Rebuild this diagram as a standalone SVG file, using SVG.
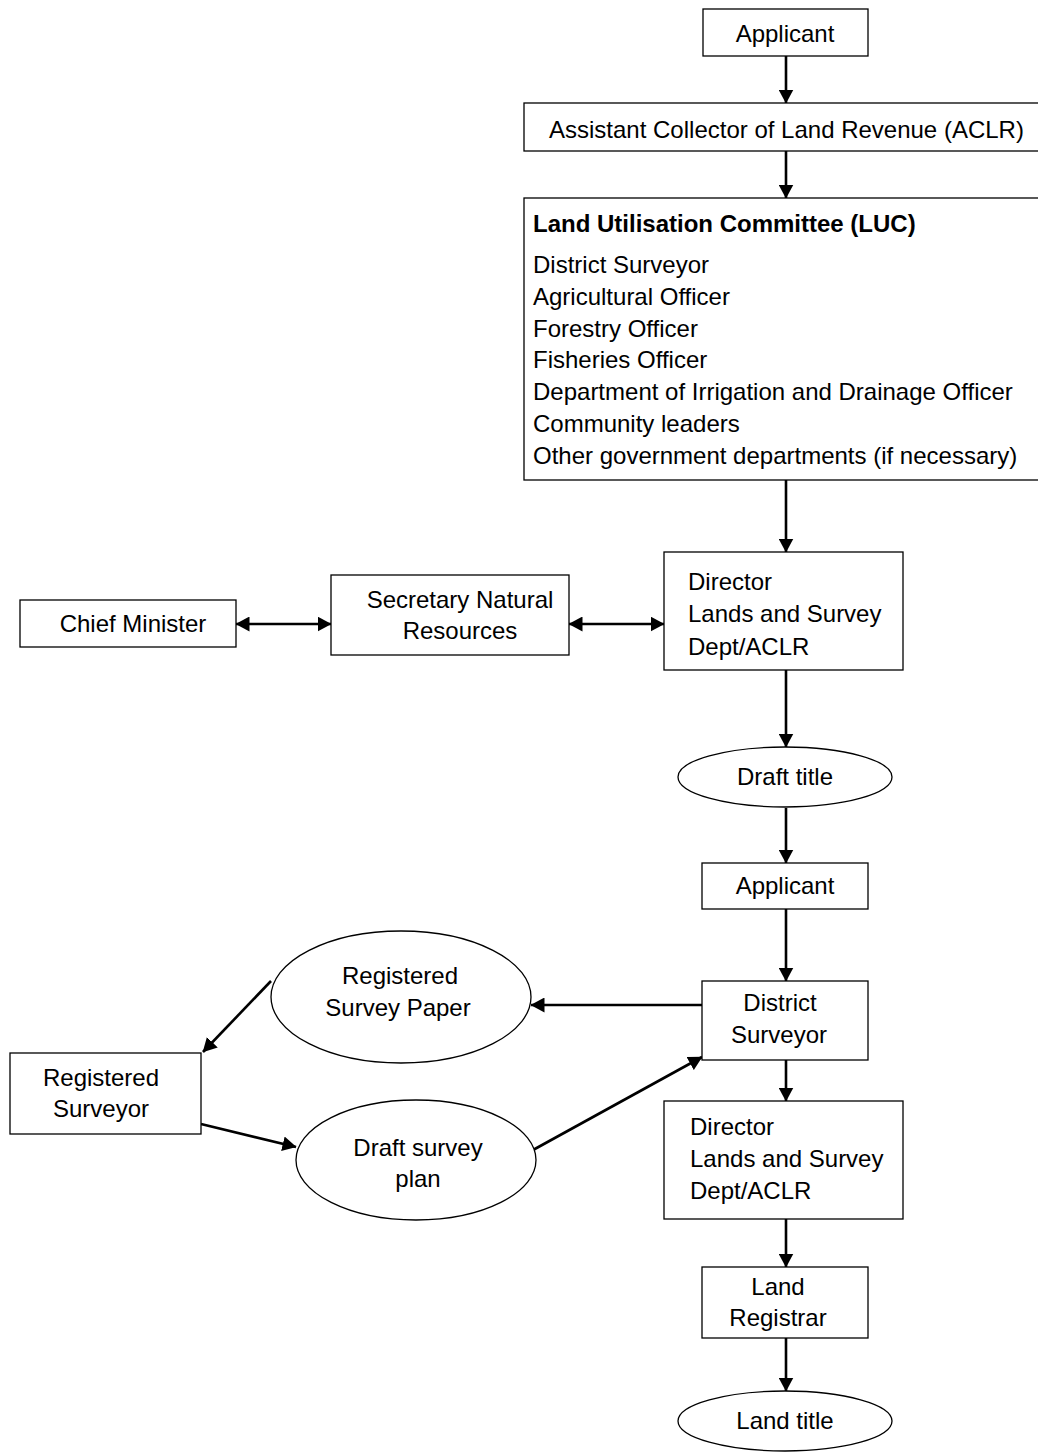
<svg xmlns="http://www.w3.org/2000/svg" width="1038" height="1452" viewBox="0 0 1038 1452">
<style>
.box{fill:#fff;stroke:#000;stroke-width:1.3}
.t{font-family:"Liberation Sans",Arial,sans-serif;font-size:24px;fill:#000}
.c{text-anchor:middle}
.b{font-weight:bold}
.conn{stroke:#000;stroke-width:2.6;fill:none}
</style>
<defs>
<marker id="ah" viewBox="0 0 14 15" refX="13.5" refY="7.5" markerWidth="14" markerHeight="15" markerUnits="userSpaceOnUse" orient="auto-start-reverse">
<path d="M0,0 L14,7.5 L0,15 z" fill="#000"/>
</marker>
</defs>
<rect width="1038" height="1452" fill="#fff"/>

<g id="connectors">
<line class="conn" x1="786" y1="56" x2="786" y2="103" marker-end="url(#ah)"/>
<line class="conn" x1="786" y1="151" x2="786" y2="198" marker-end="url(#ah)"/>
<line class="conn" x1="786" y1="480" x2="786" y2="552" marker-end="url(#ah)"/>
<line class="conn" x1="236" y1="624" x2="331" y2="624" marker-start="url(#ah)" marker-end="url(#ah)"/>
<line class="conn" x1="569" y1="624" x2="664" y2="624" marker-start="url(#ah)" marker-end="url(#ah)"/>
<line class="conn" x1="786" y1="670" x2="786" y2="747" marker-end="url(#ah)"/>
<line class="conn" x1="786" y1="808" x2="786" y2="863" marker-end="url(#ah)"/>
<line class="conn" x1="786" y1="909" x2="786" y2="981" marker-end="url(#ah)"/>
<line class="conn" x1="702" y1="1005" x2="531" y2="1005" marker-end="url(#ah)"/>
<line class="conn" x1="271" y1="981" x2="203" y2="1052" marker-end="url(#ah)"/>
<line class="conn" x1="201" y1="1124" x2="296" y2="1147" marker-end="url(#ah)"/>
<line class="conn" x1="533" y1="1150" x2="702" y2="1057" marker-end="url(#ah)"/>
<line class="conn" x1="786" y1="1060" x2="786" y2="1101" marker-end="url(#ah)"/>
<line class="conn" x1="786" y1="1219" x2="786" y2="1267" marker-end="url(#ah)"/>
<line class="conn" x1="786" y1="1338" x2="786" y2="1391" marker-end="url(#ah)"/>
</g>

<g id="applicant1">
<rect class="box" x="703" y="9" width="165" height="47"/>
<text class="t c" x="785" y="42">Applicant</text>
</g>

<g id="aclr">
<rect class="box" x="524" y="103" width="530" height="48"/>
<text class="t" x="549" y="138">Assistant Collector of Land Revenue (ACLR)</text>
</g>

<g id="luc">
<rect class="box" x="524" y="198" width="530" height="282"/>
<text class="t b" x="533" y="232">Land Utilisation Committee (LUC)</text>
<text class="t" x="533" y="273">District Surveyor</text>
<text class="t" x="533" y="305">Agricultural Officer</text>
<text class="t" x="533" y="337">Forestry Officer</text>
<text class="t" x="533" y="368">Fisheries Officer</text>
<text class="t" x="533" y="400">Department of Irrigation and Drainage Officer</text>
<text class="t" x="533" y="432">Community leaders</text>
<text class="t" x="533" y="464">Other government departments (if necessary)</text>
</g>

<g id="director1">
<rect class="box" x="664" y="552" width="239" height="118"/>
<text class="t" x="688" y="590">Director</text>
<text class="t" x="688" y="622">Lands and Survey</text>
<text class="t" x="688" y="655">Dept/ACLR</text>
</g>

<g id="secretary">
<rect class="box" x="331" y="575" width="238" height="80"/>
<text class="t c" x="460" y="608">Secretary Natural</text>
<text class="t c" x="460" y="639">Resources</text>
</g>

<g id="chief-minister">
<rect class="box" x="20" y="600" width="216" height="47"/>
<text class="t c" x="133" y="632">Chief Minister</text>
</g>

<g id="draft-title">
<ellipse class="box" cx="785" cy="777" rx="107" ry="30"/>
<text class="t c" x="785" y="785">Draft title</text>
</g>

<g id="applicant2">
<rect class="box" x="702" y="863" width="166" height="46"/>
<text class="t c" x="785" y="894">Applicant</text>
</g>

<g id="district-surveyor">
<rect class="box" x="702" y="981" width="166" height="79"/>
<text class="t c" x="780" y="1011">District</text>
<text class="t c" x="779" y="1043">Surveyor</text>
</g>

<g id="registered-survey-paper">
<ellipse class="box" cx="401" cy="997" rx="130" ry="66"/>
<text class="t c" x="400" y="984">Registered</text>
<text class="t c" x="398" y="1016">Survey Paper</text>
</g>

<g id="registered-surveyor">
<rect class="box" x="10" y="1053" width="191" height="81"/>
<text class="t c" x="101" y="1086">Registered</text>
<text class="t c" x="101" y="1117">Surveyor</text>
</g>

<g id="draft-survey-plan">
<ellipse class="box" cx="416" cy="1160" rx="120" ry="60"/>
<text class="t c" x="418" y="1156">Draft survey</text>
<text class="t c" x="418" y="1187">plan</text>
</g>

<g id="director2">
<rect class="box" x="664" y="1101" width="239" height="118"/>
<text class="t" x="690" y="1135">Director</text>
<text class="t" x="690" y="1167">Lands and Survey</text>
<text class="t" x="690" y="1199">Dept/ACLR</text>
</g>

<g id="land-registrar">
<rect class="box" x="702" y="1267" width="166" height="71"/>
<text class="t c" x="778" y="1295">Land</text>
<text class="t c" x="778" y="1326">Registrar</text>
</g>

<g id="land-title">
<ellipse class="box" cx="785" cy="1421" rx="107" ry="30"/>
<text class="t c" x="785" y="1429">Land title</text>
</g>
</svg>
